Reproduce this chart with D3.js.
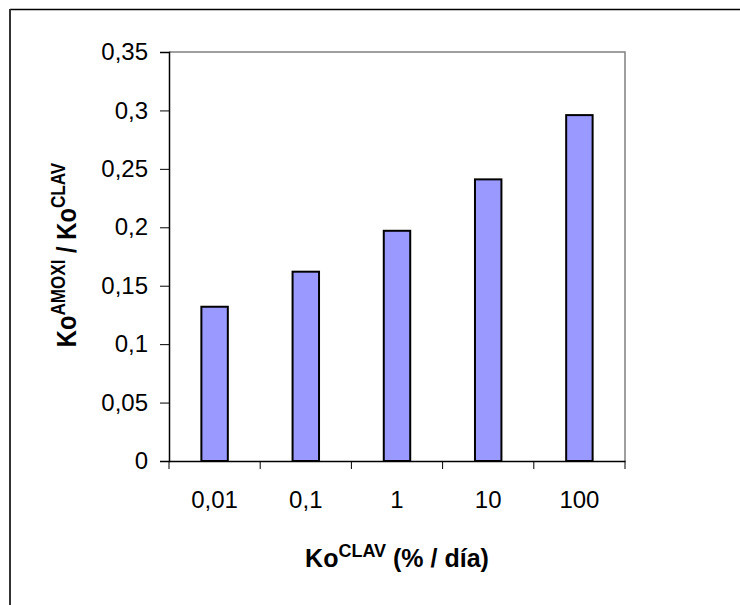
<!DOCTYPE html>
<html>
<head>
<meta charset="utf-8">
<script src="https://cdn.jsdelivr.net/npm/d3@7"></script>
<style>
  html, body { margin: 0; padding: 0; background: #fff; }
  svg { display: block; font-family: "Liberation Sans", Arial, sans-serif; }
</style>
</head>
<body>
<svg id="chart" width="740" height="605"></svg>
<script>
const categories = ["0,01", "0,1", "1", "10", "100"];
const values = [0.132, 0.162, 0.197, 0.241, 0.296];
const yTicks = [0, 0.05, 0.1, 0.15, 0.2, 0.25, 0.3, 0.35];
const yTickLabels = ["0", "0,05", "0,1", "0,15", "0,2", "0,25", "0,3", "0,35"];

const svg = d3.select("#chart");
const pLeft = 169, pRight = 625, pTop = 52, pBottom = 461;

// outer frame (top and left edges visible)
svg.append("line").attr("x1", 10).attr("x2", 740).attr("y1", 9.5).attr("y2", 9.5)
  .attr("stroke", "#000").attr("stroke-width", 1.5);
svg.append("line").attr("x1", 10).attr("x2", 10).attr("y1", 9).attr("y2", 605)
  .attr("stroke", "#333").attr("stroke-width", 2);

const x = d3.scaleBand().domain(categories).range([pLeft, pRight]).paddingInner(0).paddingOuter(0);
const y = d3.scaleLinear().domain([0, 0.35]).range([pBottom, pTop]);

// plot area border (top/right gray)
svg.append("path")
  .attr("d", `M${pLeft},${pTop}H${pRight}V${pBottom}`)
  .attr("fill", "none").attr("stroke", "#808080").attr("stroke-width", 1.5);

// bars
const bw = x.bandwidth() * 0.29;
svg.selectAll("rect.bar").data(values).enter().append("rect")
  .attr("class", "bar")
  .attr("x", (d, i) => x(categories[i]) + x.bandwidth() / 2 - bw / 2)
  .attr("y", d => y(d))
  .attr("width", bw)
  .attr("height", d => y(0) - y(d))
  .attr("fill", "#9999FF")
  .attr("stroke", "#000")
  .attr("stroke-width", 2);

// y axis
const yAxis = d3.axisLeft(y).tickValues(yTicks)
  .tickFormat((d, i) => yTickLabels[i]).tickSize(9).tickPadding(12);
const gy = svg.append("g").attr("transform", `translate(${pLeft},0)`).call(yAxis);
gy.select(".domain").attr("stroke", "#000").attr("stroke-width", 1.5);
gy.selectAll(".tick line").attr("stroke", "#000").attr("stroke-width", 1);
gy.selectAll(".tick text").attr("font-size", 24).attr("fill", "#000")
  .attr("font-family", "Liberation Sans, Arial, sans-serif");

// x axis with ticks at category boundaries
const xAxis = d3.axisBottom(x).tickSize(0).tickPadding(30);
const gx = svg.append("g").attr("transform", `translate(0,${pBottom})`).call(xAxis);
gx.select(".domain").attr("stroke", "#000").attr("stroke-width", 1.5);
gx.selectAll(".tick text").attr("font-size", 24).attr("fill", "#000")
  .attr("font-family", "Liberation Sans, Arial, sans-serif");
const bounds = categories.map(c => x(c)).concat([x(categories[categories.length - 1]) + x.bandwidth()]);
gx.selectAll("line.sep").data(bounds).enter().append("line")
  .attr("class", "sep")
  .attr("x1", d => d).attr("x2", d => d).attr("y1", 0).attr("y2", 8)
  .attr("stroke", "#000").attr("stroke-width", 1);

// x title
const xt = svg.append("text").attr("x", (pLeft + pRight) / 2).attr("y", 567)
  .attr("text-anchor", "middle").attr("font-weight", "bold").attr("font-size", 25);
xt.append("tspan").text("Ko");
xt.append("tspan").attr("dy", -10).attr("font-size", 18).text("CLAV");
xt.append("tspan").attr("dy", 10).text(" (% / día)");

// y title
const yt = svg.append("text")
  .attr("transform", `translate(76,255) rotate(-90) scale(0.95,1.12)`)
  .attr("text-anchor", "middle").attr("font-weight", "bold").attr("font-size", 25);
yt.append("tspan").text("Ko");
yt.append("tspan").attr("dy", -10).attr("font-size", 18).text("AMOXI");
yt.append("tspan").attr("dy", 10).text(" / Ko");
yt.append("tspan").attr("dy", -10).attr("font-size", 18).text("CLAV");
</script>
</body>
</html>
